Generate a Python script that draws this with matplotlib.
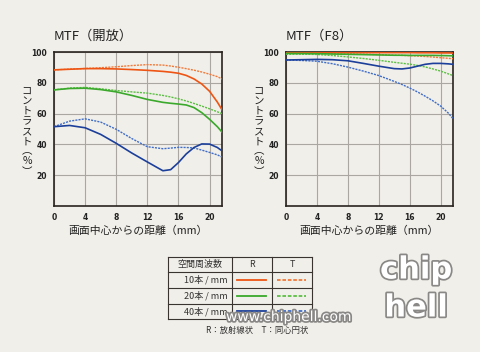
import matplotlib
matplotlib.use("Agg")
import matplotlib.pyplot as plt
import matplotlib.patheffects as pe

plt.rcParams['font.family'] = ['Noto Sans CJK JP', 'DejaVu Sans']

# distance from image centre (mm)
x_mm = [0, 2, 4, 6, 8, 10, 12, 14, 15, 16, 17, 18, 19, 20, 21, 21.6]

# open aperture
open_10_r = [88.4, 88.8, 89.2, 89.2, 89.0, 88.6, 88.1, 87.4, 86.9, 86.2, 84.8, 82.5, 79.2, 74.5, 67.5, 62.5]
open_10_t = [88.4, 88.9, 89.3, 89.8, 90.4, 91.2, 91.8, 91.5, 90.9, 90.1, 89.2, 88.2, 87.0, 85.6, 84.0, 82.5]
open_20_r = [75.4, 76.3, 76.5, 75.6, 74.1, 71.8, 69.2, 67.3, 66.7, 66.2, 65.6, 63.9, 60.6, 56.3, 51.5, 48.0]
open_20_t = [75.4, 76.6, 77.0, 76.1, 75.0, 74.1, 73.3, 71.8, 70.8, 69.6, 68.2, 66.6, 64.9, 63.1, 61.2, 59.9]
open_40_r = [51.5, 52.3, 50.8, 46.5, 40.7, 34.4, 28.6, 22.9, 23.6, 28.2, 33.8, 38.0, 40.3, 40.2, 38.0, 35.8]
open_40_t = [51.5, 55.1, 56.6, 54.5, 49.8, 43.8, 38.5, 37.2, 37.6, 38.1, 38.0, 37.7, 36.3, 34.8, 33.2, 31.8]

# F8
f8_10_r = [99.6, 99.6, 99.6, 99.6, 99.6, 99.6, 99.6, 99.6, 99.6, 99.6, 99.5, 99.5, 99.5, 99.4, 99.4, 99.3]
f8_10_t = [99.0, 99.0, 99.0, 98.9, 98.8, 98.6, 98.3, 98.0, 97.8, 97.6, 97.4, 97.1, 96.7, 96.3, 95.9, 95.6]
f8_20_r = [99.1, 99.0, 98.9, 98.7, 98.5, 98.3, 98.1, 97.9, 97.9, 97.8, 97.8, 97.8, 97.8, 97.7, 97.6, 97.5]
f8_20_t = [98.5, 98.6, 98.4, 97.7, 96.8, 95.8, 94.6, 93.3, 92.7, 92.1, 91.3, 90.3, 89.0, 87.6, 85.8, 84.7]
f8_40_r = [94.8, 95.0, 95.2, 95.0, 94.3, 92.6, 90.8, 89.2, 89.0, 89.6, 90.8, 92.0, 92.6, 92.6, 92.3, 92.0]
f8_40_t = [94.8, 94.5, 94.0, 92.4, 90.2, 87.6, 84.7, 80.9, 78.9, 76.6, 74.1, 71.3, 68.3, 64.9, 60.3, 56.7]

x_ticks = [0, 4, 8, 12, 16, 20]
y_ticks = [20, 40, 60, 80, 100]
freq_labels = ['10本 / mm', '20本 / mm', '40本 / mm']

bg = '#f1efe9'
col_r = ['#ee5514', '#3aa92c', '#1b3f9a']
col_t = ['#f07a3c', '#5cbf45', '#3f6dc8']

fig = plt.figure(figsize=(4.8, 3.52), dpi=100, facecolor=bg)


def px(x0, y0, x1, y1):
    # pixel box -> figure fraction
    return [x0 / 480, 1 - y1 / 352, (x1 - x0) / 480, (y1 - y0) / 352]


def mtf_panel(box, title, series, ylab_x):
    ax = fig.add_axes(px(*box))
    ax.set_facecolor(bg)
    for i, (r, t) in enumerate(series):
        ax.plot(x_mm, t, color=col_t[i], lw=1.0, ls=(0, (1.5, 0.8)), zorder=3)
        ax.plot(x_mm, r, color=col_r[i], lw=1.2, zorder=4)
    ax.set_xlim(0, 21.6)
    ax.set_ylim(0, 100)
    ax.set_xticks(x_ticks)
    ax.set_yticks(y_ticks)
    ax.tick_params(length=0, labelsize=5.5, colors='#222222', pad=5)
    for lab in ax.get_xticklabels() + ax.get_yticklabels():
        lab.set_fontweight('bold')
        lab.set_family('DejaVu Sans')
    ax.grid(True, color='#aaa6a2', lw=0.8)
    ax.set_axisbelow(True)
    for s in ax.spines.values():
        s.set_color('#2a2420')
        s.set_linewidth(1.2)
    fig.text(box[0] / 480, 1 - 36 / 352, title, fontsize=9.5, color='#222222',
             va='center', ha='left')
    fig.text((box[0] + box[2]) / 2 / 480, 1 - 231 / 352, '画面中心からの距離（mm）',
             fontsize=7.8, color='#222222', ha='center', va='center')
    fig.text(ylab_x / 480, 1 - 131 / 352, '\n'.join('コントラスト︵%︶'),
             fontsize=7.5, color='#222222', ha='center', va='center', linespacing=1.02)
    return ax


mtf_panel((54, 52, 222, 206), 'MTF（開放）',
          [(open_10_r, open_10_t), (open_20_r, open_20_t), (open_40_r, open_40_t)], 27)
mtf_panel((286, 52, 453, 206), 'MTF（F8）',
          [(f8_10_r, f8_10_t), (f8_20_r, f8_20_t), (f8_40_r, f8_40_t)], 259)

# legend table
tab = fig.add_axes(px(168, 257, 312, 319))
tab.set_xlim(168, 312)
tab.set_ylim(319, 257)
tab.axis('off')
row_y = [257, 272.3, 288, 303.5, 319]
col_x = [168, 232, 272, 312]
for y in row_y:
    tab.plot([168, 312], [y, y], color='#3a3430', lw=0.8, clip_on=False)
for x in col_x:
    tab.plot([x, x], [257, 319], color='#3a3430', lw=0.8, clip_on=False)
tab.text(200, 264.6, '空間周波数', fontsize=6.5, ha='center', va='center', color='#333333')
tab.text(252, 264.6, 'R', fontsize=6.5, ha='center', va='center', color='#333333')
tab.text(292, 264.6, 'T', fontsize=6.5, ha='center', va='center', color='#333333')
for i, lab in enumerate(freq_labels):
    yc = (row_y[i + 1] + row_y[i + 2]) / 2
    tab.text(228, yc, lab, fontsize=6.5, ha='right', va='center', color='#333333')
    tab.plot([237, 266], [yc, yc], color=col_r[i], lw=1.3)
    tab.plot([277, 306], [yc, yc], color=col_t[i], lw=1.3, ls=(0, (2, 1)))

fig.text(257 / 480, 1 - 330 / 352, 'R：放射線状　T：同心円状', fontsize=6,
         ha='center', va='center', color='#333333')

# watermark
shadow = [pe.withStroke(linewidth=2.5, foreground='#8a8886')]
fig.text(226 / 480, 1 - 317 / 352, 'www.chiphell.com', fontsize=10, color='white',
         ha='left', va='center', family='DejaVu Sans', path_effects=shadow)
fig.text(416 / 480, 1 - 270 / 352, 'chip', fontsize=22, color='white', fontweight='bold',
         ha='center', va='center', family='DejaVu Sans', path_effects=shadow)
fig.text(416 / 480, 1 - 308 / 352, 'hell', fontsize=22, color='white', fontweight='bold',
         ha='center', va='center', family='DejaVu Sans', path_effects=shadow)

fig.savefig('out.png', dpi=100, facecolor=bg)
